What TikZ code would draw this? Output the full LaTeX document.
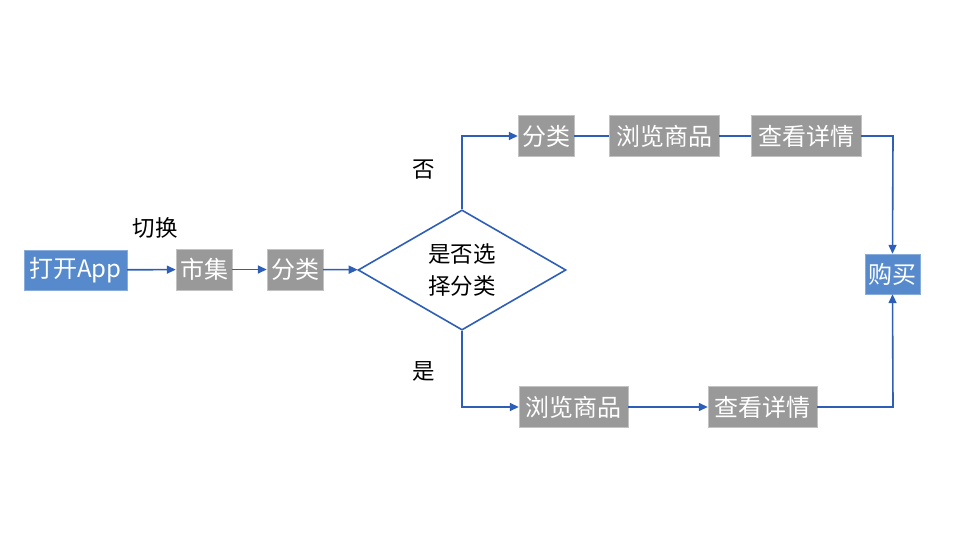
\documentclass[tikz,border=0pt]{standalone}
\usepackage{fontspec}
\setmainfont{Noto Sans CJK SC}
\usetikzlibrary{shapes.geometric,arrows.meta}
\definecolor{boxblue}{RGB}{86,138,204}
\definecolor{boxgray}{RGB}{153,153,153}
\definecolor{lineblue}{RGB}{46,95,184}
\tikzset{
  bluebox/.style={fill=boxblue,draw=boxblue!70!white,text=white,inner sep=0pt,minimum height=40pt,font=\fontsize{24}{28}\selectfont},
  graybox/.style={fill=boxgray,draw=boxgray!60!white,text=white,inner sep=0pt,minimum height=41pt,font=\fontsize{24}{28}\selectfont},
  decision/.style={diamond,draw=lineblue,line width=1.6pt,fill=white,inner sep=0pt,minimum width=208pt,minimum height=118pt,align=center,font=\fontsize{22.5}{32}\selectfont},
  lbl/.style={font=\fontsize{22.5}{26}\selectfont,inner sep=0pt},
  conn/.style={draw=lineblue,line width=1.6pt},
  arr/.style={conn,-{Triangle[width=8pt,length=9pt]}}
}
\begin{document}
\begin{tikzpicture}[x=1pt,y=-1pt]
\useasboundingbox (0,0) rectangle (960,540);
% nodes
\node[bluebox,minimum width=103pt] (app) at (75.5,270) {打开App};
\node[graybox,minimum width=56pt] (shiji) at (204,269.5) {市集};
\node[graybox,minimum width=56pt] (fl1) at (295,269.5) {分类};
\node[decision] (dec) at (462,270) {是否选\\择分类};
\node[graybox,minimum width=56pt] (fl2) at (546,136) {分类};
\node[graybox,minimum width=110pt] (lltop) at (664,136) {浏览商品};
\node[graybox,minimum width=110pt] (cktop) at (806,136) {查看详情};
\node[bluebox,minimum width=55pt] (buy) at (892.5,274) {购买};
\node[graybox,minimum width=109pt] (llbot) at (573.5,407) {浏览商品};
\node[graybox,minimum width=109pt] (ckbot) at (762.5,407) {查看详情};
% labels
\node[lbl] (qh) at (155,228) {切换};
\node[lbl] (fou) at (424,170) {否};
\node[lbl] (shi) at (424,371) {是};
% connectors
\coordinate (tr) at (893,136);
\coordinate (br) at (893,407);
\draw[arr] (app) -- (shiji);
\draw[arr] (shiji) -- (fl1);
\draw[arr] (fl1) -- (dec);
\draw[arr] (dec.north) |- (fl2.west);
\draw[conn] (fl2) -- (lltop);
\draw[conn] (lltop) -- (cktop);
\draw[arr] (cktop.east) -- (tr) -- (buy.north);
\draw[arr] (dec.south) |- (llbot.west);
\draw[arr] (llbot) -- (ckbot);
\draw[arr] (ckbot.east) -- (br) -- (buy.south);
\end{tikzpicture}
\end{document}
